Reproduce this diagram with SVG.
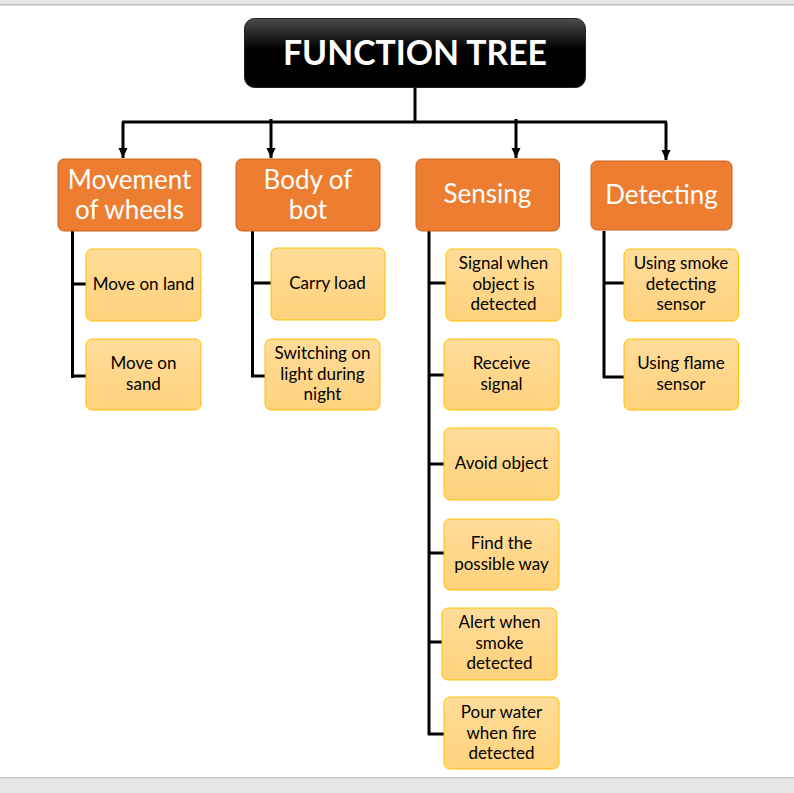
<svg xmlns="http://www.w3.org/2000/svg" width="794" height="793" viewBox="0 0 794 793">
<defs>
<linearGradient id="gTitle" x1="0" y1="0" x2="0" y2="1">
<stop offset="0" stop-color="#4d4d4d"/>
<stop offset="0.45" stop-color="#000"/>
<stop offset="1" stop-color="#000"/>
</linearGradient>
<linearGradient id="gLeaf" x1="0" y1="0" x2="0" y2="1">
<stop offset="0" stop-color="#FFDC9A"/>
<stop offset="1" stop-color="#FFD27C"/>
</linearGradient>
<marker id="arr" viewBox="0 0 10 10" refX="10" refY="5" markerWidth="10" markerHeight="10" markerUnits="userSpaceOnUse" orient="auto">
<path d="M0,0.5 L10,5 L0,9.5 Z" fill="#000"/>
</marker>
</defs>
<style>
.cat rect{fill:#ED7D31;stroke:#C9651F;stroke-width:1}
.cat text{fill:#fff;font-family:Lato,"Open Sans","Liberation Sans",sans-serif;font-size:26px;text-anchor:middle}
.leaf rect{fill:url(#gLeaf);stroke:#FFC000;stroke-width:1}
.leaf text{fill:#000;font-family:Lato,"Open Sans","Liberation Sans",sans-serif;font-size:17px;text-anchor:middle}
.conn{stroke:#000;stroke-width:3;fill:none}
</style>
<rect x="0" y="0" width="794" height="793" fill="#fff"/>
<rect x="0" y="0" width="794" height="4" fill="#e6e6e6"/>
<rect x="0" y="4" width="794" height="1.5" fill="#bfbfbf"/>
<rect x="0" y="777" width="794" height="16" fill="#e6e6e6"/>
<rect x="0" y="777" width="794" height="1.5" fill="#c6c6c6"/>

<g id="connectors" class="conn">
<path d="M415,87 V122"/>
<path d="M122,122 H667"/>
<path d="M123,122 V158" marker-end="url(#arr)"/>
<path d="M271,119 V158" marker-end="url(#arr)"/>
<path d="M516,119 V158" marker-end="url(#arr)"/>
<path d="M666,122 V160" marker-end="url(#arr)"/>
<path d="M72.5,231 V378 M71,284 H86 M71,376 H86"/>
<path d="M252.5,231 V377 M251,283 H271 M251,376 H265"/>
<path d="M429,231 V735 M428,283 H450 M428,375 H444 M428,464 H444 M428,553 H444 M428,642 H442 M428,734 H444"/>
<path d="M604,231 V378 M603,283 H624 M603,377 H628"/>
</g>

<g id="title">
<rect x="244.5" y="18.5" width="341" height="69" rx="10" fill="url(#gTitle)" stroke="#222" stroke-width="1"/>
<text x="415" y="65" fill="#fff" font-family="Lato,'Open Sans','Liberation Sans',sans-serif" font-weight="bold" font-size="34" text-anchor="middle" textLength="264" lengthAdjust="spacingAndGlyphs">FUNCTION TREE</text>
</g>

<g id="movement" class="cat">
<rect x="58" y="159" width="143" height="72" rx="6"/>
<text x="129.5" y="189">Movement</text>
<text x="129.5" y="219">of wheels</text>
</g>
<g id="body" class="cat">
<rect x="236" y="159" width="144" height="72" rx="6"/>
<text x="308" y="189">Body of</text>
<text x="308" y="219">bot</text>
</g>
<g id="sensing" class="cat">
<rect x="416" y="159" width="143.5" height="72" rx="6"/>
<text x="487.5" y="203">Sensing</text>
</g>
<g id="detecting" class="cat">
<rect x="591" y="161" width="141" height="69" rx="6"/>
<text x="661.5" y="204">Detecting</text>
</g>

<g id="move-land" class="leaf">
<rect x="86" y="249" width="115" height="72" rx="6"/>
<text x="143.5" y="290">Move on land</text>
</g>
<g id="move-sand" class="leaf">
<rect x="86" y="339" width="115" height="71" rx="6"/>
<text x="143.5" y="369">Move on</text>
<text x="143.5" y="390">sand</text>
</g>
<g id="carry-load" class="leaf">
<rect x="271" y="248" width="114" height="72" rx="6"/>
<text x="327.5" y="289">Carry load</text>
</g>
<g id="switching" class="leaf">
<rect x="265" y="339" width="115" height="71" rx="6"/>
<text x="322.5" y="359">Switching on</text>
<text x="322.5" y="380">light during</text>
<text x="322.5" y="400">night</text>
</g>
<g id="signal" class="leaf">
<rect x="446" y="249" width="115" height="72" rx="6"/>
<text x="503.5" y="269">Signal when</text>
<text x="503.5" y="290">object is</text>
<text x="503.5" y="310">detected</text>
</g>
<g id="receive" class="leaf">
<rect x="444" y="339" width="115" height="71" rx="6"/>
<text x="501.5" y="369">Receive</text>
<text x="501.5" y="390">signal</text>
</g>
<g id="avoid" class="leaf">
<rect x="444" y="428" width="115" height="72" rx="6"/>
<text x="501.5" y="469">Avoid object</text>
</g>
<g id="find" class="leaf">
<rect x="444" y="519" width="115" height="71" rx="6"/>
<text x="501.5" y="549">Find the</text>
<text x="501.5" y="570">possible way</text>
</g>
<g id="alert" class="leaf">
<rect x="442" y="608" width="115" height="72" rx="6"/>
<text x="499.5" y="628">Alert when</text>
<text x="499.5" y="649">smoke</text>
<text x="499.5" y="669">detected</text>
</g>
<g id="pour" class="leaf">
<rect x="444" y="697" width="115" height="72" rx="6"/>
<text x="501.5" y="718">Pour water</text>
<text x="501.5" y="739">when fire</text>
<text x="501.5" y="759">detected</text>
</g>
<g id="smoke-sensor" class="leaf">
<rect x="624" y="249" width="114.5" height="72" rx="6"/>
<text x="681" y="269">Using smoke</text>
<text x="681" y="290">detecting</text>
<text x="681" y="310">sensor</text>
</g>
<g id="flame-sensor" class="leaf">
<rect x="624" y="339" width="114.5" height="71" rx="6"/>
<text x="681" y="369">Using flame</text>
<text x="681" y="390">sensor</text>
</g>
</svg>
